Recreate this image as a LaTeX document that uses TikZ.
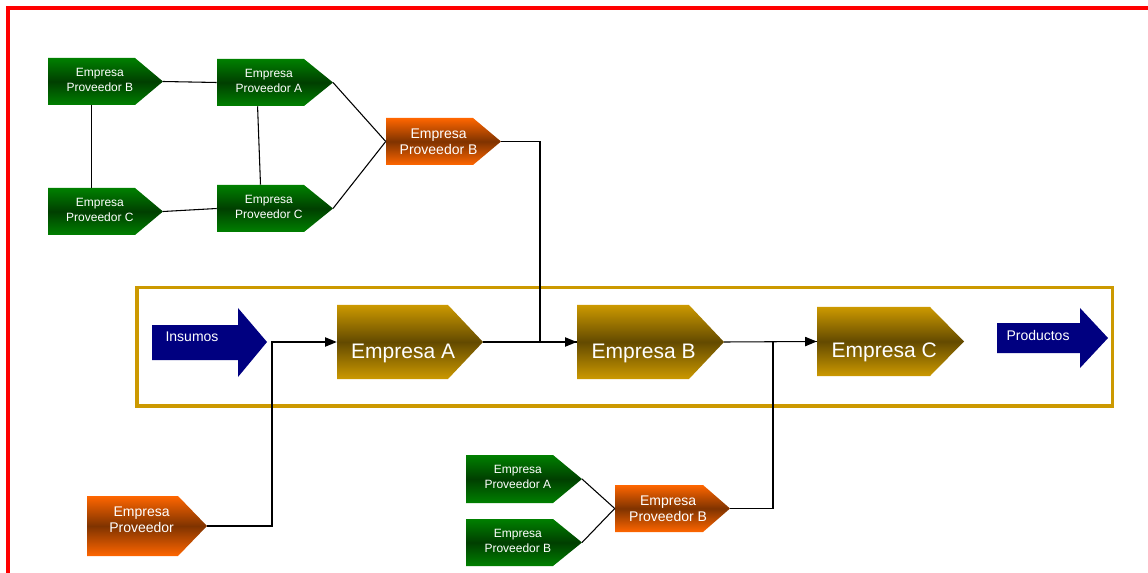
\documentclass[tikz,border=0pt]{standalone}
\usepackage{fontspec}
\setmainfont{Liberation Sans}
\usetikzlibrary{arrows.meta,calc}
\definecolor{grT}{HTML}{008000}
\definecolor{grM}{HTML}{003F00}
\definecolor{orT}{HTML}{FF6600}
\definecolor{orM}{HTML}{7F3300}
\definecolor{goT}{HTML}{CC9900}
\definecolor{goM}{HTML}{634A00}
\definecolor{navy}{HTML}{000080}
\definecolor{frameGold}{HTML}{CC9900}
\tikzset{
  greenfill/.style={top color=grT, bottom color=grT, middle color=grM},
  orangefill/.style={top color=orT, bottom color=orT, middle color=orM},
  goldfill/.style={top color=goT, bottom color=goT, middle color=goM},
  bodybox/.style={inner sep=0pt, draw=none},
  smalltxt/.style={text=white, align=center, inner sep=0pt, font=\fontsize{9}{11.25}\selectfont, xshift=6.3pt, yshift=1.5pt},
  medtxt/.style={text=white, align=center, inner sep=0pt, font=\fontsize{10.5}{12}\selectfont, xshift=6.8pt},
  bigtxt/.style={text=white, align=center, inner sep=0pt, font=\fontsize{15.75}{18}\selectfont, xshift=8pt, yshift=-8.5pt},
  bluetxt/.style={text=white, inner sep=0pt, font=\fontsize{10.5}{12}\selectfont},
  conn/.style={draw=black, line width=0.8pt},
  arrowconn/.style={conn, -{Triangle[length=8.75pt,width=7pt]}},
}
% #1 fill style, #2 name, #3 left x, #4 top y, #5 body right x, #6 tip x, #7 bottom y, #8 text style, #9 text
\newcommand{\chev}[9]{%
  \path[#1] (#3,#4) -- (#5,#4) -- (#6,{(#4+#7)/2}) -- (#5,#7) -- (#3,#7) -- cycle;
  \node[bodybox, minimum width={(#5-#3)*0.75pt}, minimum height={(#7-#4)*0.75pt}] (#2) at ({(#3+#5)/2},{(#4+#7)/2}) {};
  \coordinate (#2-tip) at (#6,{(#4+#7)/2});
  \node[#8] (#2-text) at (#2.center) {#9};
}
\begin{document}
\begin{tikzpicture}[x=0.75pt,y=-0.75pt]
\useasboundingbox (0,0) rectangle (1148,573);
% red frame
\draw[red, line width=2.8pt] (8,573) -- (8,8) -- (1148,8);
% gold frame
\draw[frameGold, line width=2.3pt] (137,287.5) rectangle (1112.5,406);

% top cluster
\chev{greenfill}{g1}{48}{58}{135}{163}{105}{smalltxt}{Empresa\\Proveedor B}
\chev{greenfill}{g2}{217}{59}{304}{333}{106}{smalltxt}{Empresa\\Proveedor A}
\chev{greenfill}{g3}{48}{188}{135}{163}{235}{smalltxt}{Empresa\\Proveedor C}
\chev{greenfill}{g4}{217}{185}{304}{333}{232}{smalltxt}{Empresa\\Proveedor C}
\chev{orangefill}{ot}{386}{118}{473}{501}{165}{medtxt}{Empresa\\Proveedor B}

% main chain
\chev{goldfill}{ea}{337}{305}{448}{483}{379}{bigtxt}{Empresa A}
\chev{goldfill}{eb}{577}{305}{689}{724}{379}{bigtxt}{Empresa B}
\chev{goldfill}{ec}{817}{307}{930}{964}{376}{bigtxt}{Empresa C}

% bottom shapes
\chev{orangefill}{op}{87}{496}{178}{207}{556}{medtxt, yshift=4.5pt}{Empresa\\Proveedor}
\chev{greenfill}{ba}{466}{455}{553}{582}{503}{smalltxt}{Empresa\\Proveedor A}
\chev{greenfill}{bb}{466}{519}{553}{582}{566}{smalltxt}{Empresa\\Proveedor B}
\chev{orangefill}{bo}{615}{485}{703}{730}{532}{medtxt}{Empresa\\Proveedor B}

% blue arrows
\fill[navy] (152,325) -- (238,325) -- (238,308) -- (267,342) -- (238,377) -- (238,360) -- (152,360) -- cycle;
\node[bluetxt] (insumos) at (192,337) {Insumos};
\fill[navy] (997,323) -- (1080,323) -- (1080,308) -- (1108,338) -- (1080,368) -- (1080,353) -- (997,353) -- cycle;
\node[bluetxt] (productos) at (1038,335) {Productos};

% connectors top cluster
\draw[conn] (g1-tip) -- (g2.west);
\draw[conn] (g1.south) -- (g3.north);
\draw[conn] ([xshift=-2.2pt]g2.south) -- (g4.north);
\draw[conn] (g3-tip) -- (g4.west);
\draw[conn] (g2-tip) -- (ot.west);
\draw[conn] (g4-tip) -- (ot.west);
\draw[conn] (ot-tip) -- ++(39,0) |- (eb.west);

% main chain connectors
\draw[arrowconn] (op-tip) -- ++(65,0) |- (ea.west);
\draw[arrowconn] (ea-tip) -- (eb.west);
\draw[arrowconn] (eb-tip) -- (ec.west);

% bottom cluster connectors
\draw[conn] (ba-tip) -- (bo.west);
\draw[conn] (bb-tip) -- (bo.west);
\draw[conn] (bo-tip) -- ++(43,0) |- (ec.west);
\end{tikzpicture}
\end{document}
